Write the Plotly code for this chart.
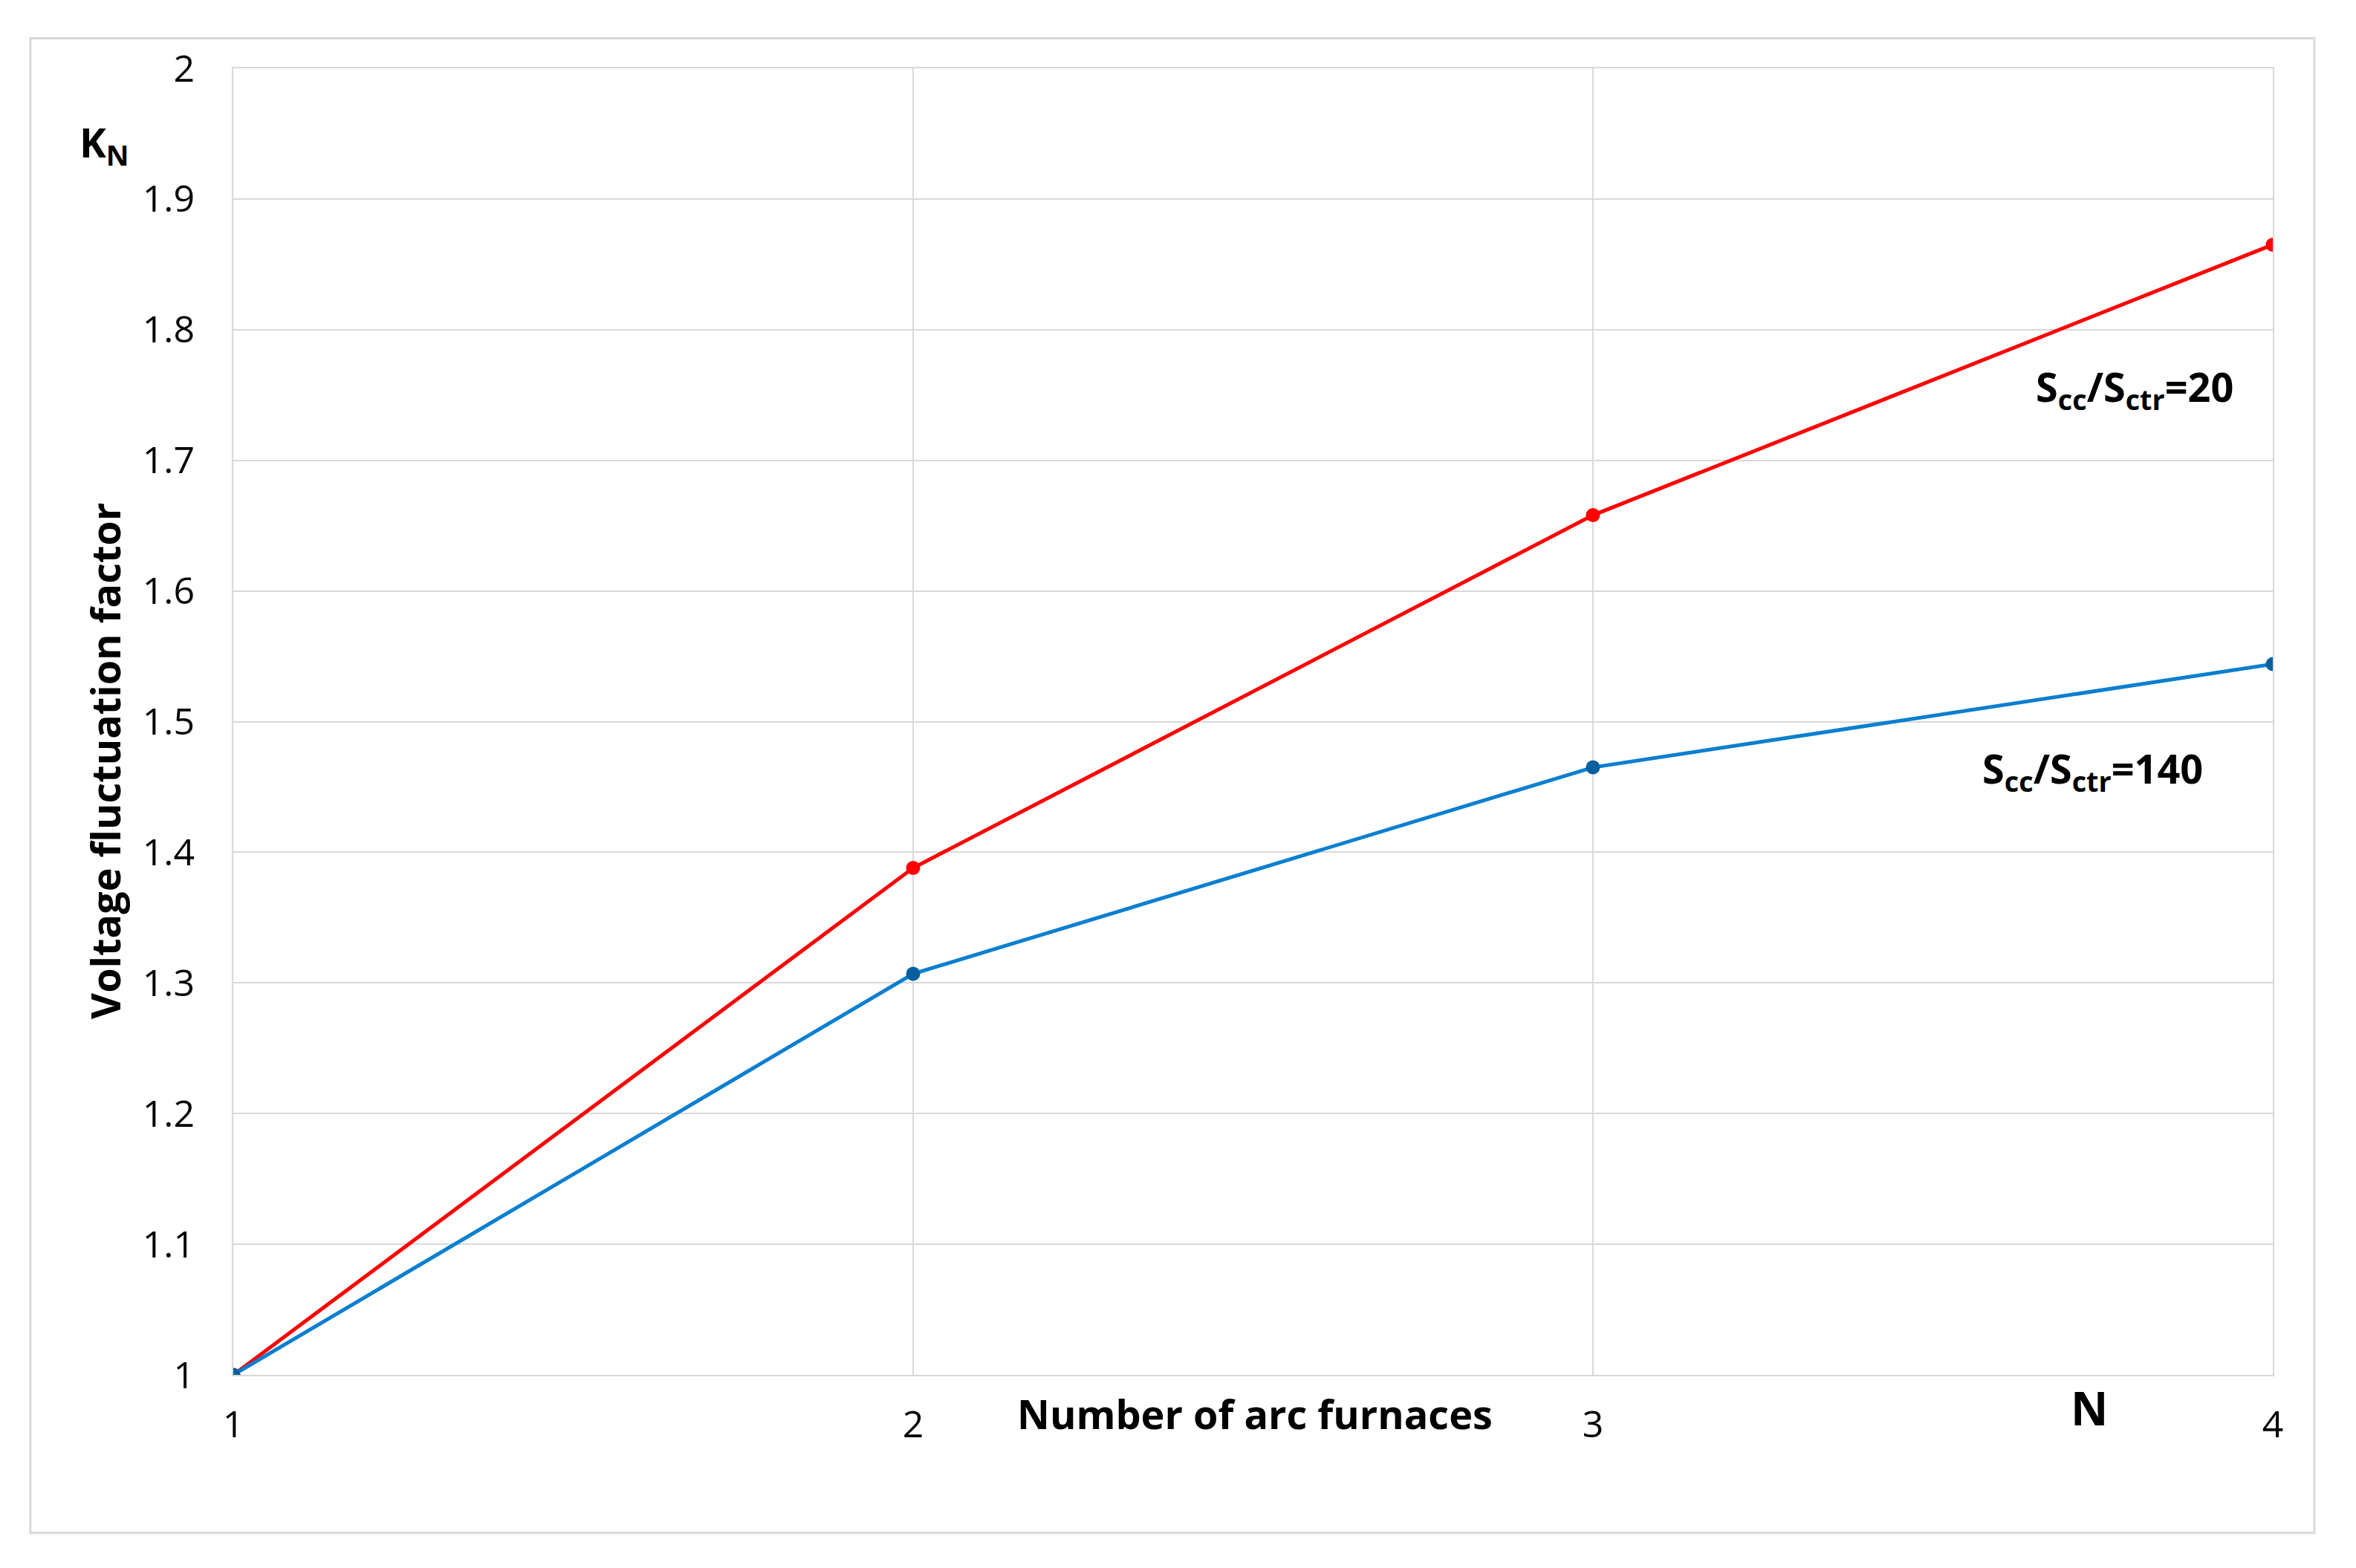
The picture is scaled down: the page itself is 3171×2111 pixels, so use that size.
import plotly.graph_objects as go

furnaces = [1, 2, 3, 4]
k_ratio_20 = [1.0, 1.388, 1.658, 1.865]
k_ratio_140 = [1.0, 1.307, 1.465, 1.544]
y_ticks = [1, 1.1, 1.2, 1.3, 1.4, 1.5, 1.6, 1.7, 1.8, 1.9, 2]
y_tick_text = ['1', '1.1', '1.2', '1.3', '1.4', '1.5', '1.6', '1.7', '1.8', '1.9', '2']

font = 'Open Sans'
fig = go.Figure()
fig.add_trace(go.Scatter(x=furnaces, y=k_ratio_20, mode='lines+markers',
                         line=dict(color='#ff0000', width=5), marker=dict(size=19, color='#ff0000')))
fig.add_trace(go.Scatter(x=furnaces, y=k_ratio_140, mode='lines+markers',
                         line=dict(color='#0a7fd0', width=5), marker=dict(size=19, color='#0a5fa0')))

fig.update_layout(
    width=3171, height=2111, showlegend=False,
    plot_bgcolor='white', paper_bgcolor='white',
    margin=dict(l=306, r=120, t=84, b=268),
    font=dict(family=font, size=50, color='black'),
)
fig.update_xaxes(range=[1, 4], tickvals=furnaces, showgrid=True, gridcolor='#d9d9d9', gridwidth=2,
                 showline=True, linecolor='#d9d9d9', linewidth=2, mirror=True, zeroline=False,
                 ticks='', ticklabelstandoff=22)
fig.update_yaxes(range=[1, 2], tickvals=y_ticks, ticktext=y_tick_text, showgrid=True,
                 gridcolor='#d9d9d9', gridwidth=2, showline=True, linecolor='#d9d9d9', linewidth=2,
                 mirror=True, zeroline=False, ticks='', ticklabelstandoff=40)

# outer frame
fig.add_shape(type='rect', xref='paper', yref='paper', x0=-0.0995, x1=1.0204, y0=-0.121, y1=1.023,
              line=dict(color='#d9d9d9', width=3))

bold = dict(family=font, size=54, color='black')
fig.add_annotation(x=3.797, y=1.755, text='<b>S<sub>cc</sub>/S<sub>ctr</sub>=20</b>', showarrow=False, font=bold)
fig.add_annotation(x=3.735, y=1.463, text='<b>S<sub>cc</sub>/S<sub>ctr</sub>=140</b>', showarrow=False, font=bold)
fig.add_annotation(x=2.503, y=-0.052, yref='paper', text='<b>Number of arc furnaces</b>', showarrow=False, font=bold)
fig.add_annotation(x=3.73, y=-0.05, yref='paper', text='<b>N</b>', showarrow=False, font=dict(family=font, size=62))
fig.add_annotation(x=-0.076, y=0.966, xref='paper', yref='paper', text='<b>K<sub>N</sub></b>', showarrow=False, font=bold)
fig.add_annotation(x=-0.077, y=0.47, xref='paper', yref='paper', text='<b>Voltage fluctuation factor</b>',
                   textangle=-90, showarrow=False, font=bold)

fig.write_html('out.html')
